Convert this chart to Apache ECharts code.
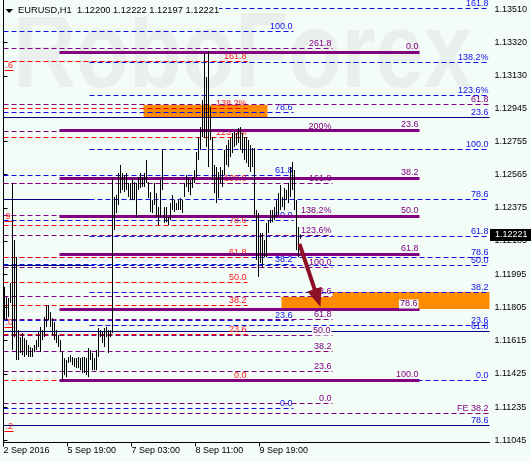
<!DOCTYPE html>
<html><head><meta charset="utf-8">
<script src="https://cdn.jsdelivr.net/npm/echarts@6/dist/echarts.min.js"></script>
<style>html,body{margin:0;padding:0;background:#f4fcf8}#c{width:531px;height:462px}</style>
</head><body><div id="c"></div>
<script>
// ---------- data ----------
const barOpen = [
1.1190,1.1175,1.1184,1.1184,1.1192,1.1180,1.1205,1.1155,1.1163,1.1158,
1.1160,1.1154,1.1159,1.1153,1.1157,1.1155,1.1158,1.1161,1.1158,1.1167,
1.1164,1.1174,1.1180,1.1175,1.1171,1.1166,1.1167,1.1161,1.1161,1.1154,
1.1142,1.1150,1.1149,1.1151,1.1150,1.1148,1.1151,1.1147,1.1151,1.1145,
1.1151,1.1144,1.1150,1.1155,1.1151,1.1145,1.1150,1.1156,1.1166,1.1164,
1.1161,1.1168,1.1165,1.1164,1.1167,1.1240,1.1238,1.1242,1.1255,1.1249,
1.1255,1.1248,1.1251,1.1245,1.1250,1.1243,1.1251,1.1248,1.1254,1.1250,
1.1254,1.1252,1.1252,1.1244,1.1237,1.1241,1.1245,1.1234,1.1233,1.1250,
1.1237,1.1230,1.1232,1.1231,1.1239,1.1237,1.1240,1.1237,1.1241,1.1237,
1.1244,1.1250,1.1254,1.1248,1.1252,1.1254,1.1258,1.1268,1.1276,1.1282,
1.1297,1.1280,1.1305,1.1278,1.1277,1.1256,1.1250,1.1258,1.1252,1.1259,
1.1257,1.1269,1.1265,1.1275,1.1270,1.1279,1.1274,1.1279,1.1276,1.1280,
1.1270,1.1276,1.1265,1.1273,1.1261,1.1270,1.1234,1.1210,1.1222,1.1207,
1.1219,1.1211,1.1227,1.1230,1.1235,1.1231,1.1237,1.1240,1.1236,1.1243,
1.1239,1.1247,1.1243,1.1250,1.1259,1.1250,1.1240,1.1215,1.12200];
const barClose = [
1.1175,1.1184,1.1179,1.1192,1.1180,1.1205,1.1155,1.1164,1.1158,1.1160,
1.1154,1.1160,1.1153,1.1157,1.1153,1.1158,1.1161,1.1158,1.1167,1.1163,
1.1174,1.1180,1.1175,1.1171,1.1166,1.1170,1.1161,1.1164,1.1155,1.1142,
1.1150,1.1143,1.1151,1.1150,1.1148,1.1151,1.1147,1.1151,1.1145,1.1151,
1.1144,1.1150,1.1155,1.1151,1.1145,1.1150,1.1156,1.1166,1.1164,1.1161,
1.1168,1.1165,1.1156,1.1167,1.1240,1.1238,1.1242,1.1255,1.1249,1.1255,
1.1248,1.1256,1.1245,1.1250,1.1243,1.1251,1.1246,1.1254,1.1250,1.1254,
1.1251,1.1262,1.1244,1.1237,1.1241,1.1250,1.1234,1.1230,1.1250,1.1249,
1.1230,1.1236,1.1229,1.1239,1.1237,1.1240,1.1237,1.1241,1.1237,1.1241,
1.1250,1.1254,1.1248,1.1252,1.1254,1.1258,1.1268,1.1276,1.1282,1.1297,
1.1280,1.1305,1.1268,1.1290,1.1256,1.1250,1.1258,1.1245,1.1259,1.1252,
1.1269,1.1265,1.1275,1.1270,1.1279,1.1274,1.1279,1.1276,1.1283,1.1270,
1.1276,1.1265,1.1274,1.1260,1.1270,1.1234,1.1210,1.1222,1.1207,1.1221,
1.1211,1.1227,1.1230,1.1235,1.1231,1.1237,1.1240,1.1236,1.1249,1.1239,
1.1247,1.1243,1.1250,1.1259,1.1250,1.1240,1.1215,1.1222,1.12221];
const barLow = [
1.11733,1.11733,1.11750,1.11830,1.11561,1.11635,1.11504,1.11504,1.11544,1.11532,
1.11521,1.11532,1.11521,1.11521,1.11521,1.11549,1.11561,1.11578,1.11549,1.11618,
1.11635,1.11693,1.11733,1.11693,1.11647,1.11618,1.11601,1.11578,1.11549,1.11389,
1.11418,1.11406,1.11487,1.11492,1.11475,1.11464,1.11458,1.11458,1.11446,1.11429,
1.11429,1.11418,1.11406,1.11504,1.11446,1.11446,1.11446,1.11521,1.11635,1.11601,
1.11578,1.11635,1.11544,1.11635,1.11658,1.12248,1.12345,1.12391,1.12459,1.12477,
1.12465,1.12477,1.12437,1.12419,1.12419,1.12419,1.12322,1.12477,1.12488,1.12494,
1.12494,1.12517,1.12431,1.12351,1.12345,1.12391,1.12322,1.12276,1.12322,1.12477,
1.12288,1.12293,1.12276,1.12305,1.12362,1.12351,1.12362,1.12362,1.12362,1.12345,
1.12437,1.12494,1.12465,1.12448,1.12488,1.12517,1.12551,1.12648,1.12706,1.12780,
1.12774,1.12723,1.12608,1.12763,1.12534,1.12459,1.12402,1.12431,1.12517,1.12494,
1.12562,1.12620,1.12608,1.12665,1.12688,1.12723,1.12734,1.12746,1.12706,1.12688,
1.12648,1.12631,1.12608,1.12580,1.12608,1.12322,1.12076,1.11979,1.12059,1.12036,
1.12093,1.12093,1.12231,1.12288,1.12293,1.12305,1.12322,1.12334,1.12362,1.12379,
1.12362,1.12419,1.12402,1.12437,1.12477,1.12362,1.12133,1.12093,1.12197];
const barHigh = [
1.11922,1.11864,1.11859,1.11944,1.12517,1.12190,1.12093,1.11675,1.11635,1.11658,
1.11630,1.11618,1.11590,1.11578,1.11572,1.11590,1.11618,1.11664,1.11693,1.11675,
1.11750,1.11818,1.11818,1.11778,1.11744,1.11721,1.11675,1.11647,1.11618,1.11549,
1.11515,1.11504,1.11521,1.11532,1.11521,1.11515,1.11515,1.11521,1.11515,1.11521,
1.11521,1.11515,1.11572,1.11561,1.11544,1.11515,1.11561,1.11687,1.11675,1.11664,
1.11687,1.11693,1.11675,1.11675,1.12545,1.12437,1.12448,1.12574,1.12620,1.12574,
1.12562,1.12574,1.12517,1.12517,1.12545,1.12522,1.12517,1.12551,1.12574,1.12551,
1.12574,1.12648,1.12522,1.12465,1.12419,1.12517,1.12459,1.12379,1.12534,1.12711,
1.12379,1.12379,1.12322,1.12402,1.12448,1.12419,1.12402,1.12419,1.12431,1.12419,
1.12517,1.12562,1.12545,1.12534,1.12551,1.12591,1.12694,1.12780,1.12837,1.12992,
1.13261,1.13123,1.13272,1.12952,1.12780,1.12620,1.12608,1.12580,1.12608,1.12591,
1.12706,1.12734,1.12763,1.12774,1.12803,1.12809,1.12803,1.12831,1.12837,1.12803,
1.12780,1.12780,1.12763,1.12734,1.12717,1.12717,1.12362,1.12345,1.12231,1.12231,
1.12190,1.12288,1.12305,1.12362,1.12362,1.12379,1.12419,1.12459,1.12505,1.12437,
1.12488,1.12477,1.12517,1.12608,1.12637,1.12591,1.12419,1.12265,1.12222];

const slotCount = 243;                       // hourly slots across the chart
const xTickSlots = [0, 32, 64, 96, 128];
const xTickLabels = ['2 Sep 2016', '5 Sep 19:00', '7 Sep 03:00', '8 Sep 11:00', '9 Sep 19:00'];
const yTickValues = [1.11045, 1.11235, 1.11425, 1.11615, 1.11805, 1.11995, 1.12185, 1.12375, 1.12565, 1.12755, 1.12945, 1.13130, 1.13320, 1.13510];
const priceMin = 1.11032, priceMax = 1.13564;
const titleText = 'EURUSD,H1  1.12200 1.12222 1.12197 1.12221';
const lastPrice = 1.12221;

// Fibonacci objects: level labels, prices and the slot span they cover
const redFibLabels = ['0.0','23.6','38.2','50.0','61.8','78.6','100.0','123.6%','138.2%','161.8'];
const redFibPrices = [1.11389,1.11653,1.11818,1.11950,1.12093,1.12276,1.12517,1.12780,1.12946,1.13215];
const redFibSpan = [0, 122];

const violetFibLabels = ['0.0','23.6','38.2','50.0','61.8','78.6','100.0','123.6%','138.2%','161.8','200%','261.8'];
const violetFibPrices = [1.11258,1.11441,1.11555,1.11647,1.11738,1.11870,1.12036,1.12219,1.12334,1.12517,1.12814,1.13289];
const violetFibSpan = [0, 164.5];

const thickFibLabels = ['0.0','23.6','38.2','50.0','61.8','78.6','100.0'];
const thickFibPrices = [1.13266,1.12820,1.12545,1.12328,1.12110,1.11796,1.11389];
const thickFibSpan = [28, 208];

const blueLongLabels = ['0.0','23.6','38.2','50.0','61.8','78.6','100.0','123.6%','138.2%','161.8'];
const blueLongPrices = [1.11389,1.11704,1.11893,1.12047,1.12213,1.12425,1.12711,1.13020,1.13209,1.13518];
const blueLongSpan = [43, 243];

const blueShortLabels = ['0.0','23.6','38.2','50.0','61.8','78.6','100.0'];
const blueShortPrices = [1.11229,1.11733,1.12053,1.12305,1.12562,1.12923,1.13387];
const blueShortSpan = [0, 145];

const navyLabels = ['23.6','','','61.8','78.6'];
const navyPrices = [1.12894,1.12425,1.12047,1.11670,1.11132];
const navyEnds = [243, 44, 44, 243, 243];

const extraVioletLabels = ['61.8', 'FE 38.2'];
const extraVioletPrices = [1.12969, 1.11200];
const extraBlueLabels = ['78.6'];
const extraBluePrices = [1.12093];

const zoneStart = [70, 139, 164.5];
const zoneEnd = [132, 243, 243];
const zoneTop = [1.12963, 1.11864, 1.11893];
const zoneBottom = [1.12889, 1.11796, 1.11864];

const arrowFrom = [148, 1.12168];
const arrowTo = [158.5, 1.11807];

const edgeLabelTexts = ['.6', '9', '.0', '.2'];
const edgeLabelPrices = [1.13163, 1.12299, 1.11693, 1.11097];

// ---------- drawing ----------
const BG = '#f4fcf8';
const FONT = '9px "Liberation Sans"';
const slots = Array.from({length: slotCount}, (_, i) => i);

function levelSeries(starts, ends, prices, labels, look) {
  const rows = prices.map((p, i) => [starts[i], ends[i], p]);
  return {
    type: 'custom', xAxisIndex: 1, yAxisIndex: 0, z: look.z, silent: true,
    data: rows,
    renderItem(params, api) {
      const a = api.coord([api.value(0), api.value(2)]);
      const b = api.coord([api.value(1), api.value(2)]);
      const y = Math.round(a[1]) + 0.5;
      const kids = [{type: 'line', shape: {x1: a[0], y1: y, x2: b[0], y2: y},
        style: {stroke: look.color, lineWidth: look.width, lineDash: look.dash || null}}];
      const text = labels[params.dataIndex];
      if (text) {
        const withBg = look.bg && look.bg.indexOf(text) >= 0;
        kids.push({type: 'text', x: b[0] - 1, y: y - Math.ceil(look.width / 2) + 1,
          style: {text, fill: look.labelColor, font: FONT, align: 'right', verticalAlign: 'bottom',
            backgroundColor: withBg ? BG : null, padding: withBg ? [0, 1, 0, 1] : 0}});
      }
      return {type: 'group', children: kids};
    }
  };
}
const fill = (n, v) => Array(n).fill(v);

const series = [
  { // orange zones
    type: 'custom', xAxisIndex: 1, yAxisIndex: 0, z: 1, silent: true,
    data: zoneStart.map((s, i) => [s, zoneEnd[i], zoneTop[i], zoneBottom[i]]),
    renderItem(params, api) {
      const a = api.coord([api.value(0), api.value(2)]);
      const b = api.coord([api.value(1), api.value(3)]);
      return {type: 'rect', shape: {x: a[0], y: a[1], width: b[0] - a[0], height: b[1] - a[1]},
        style: {fill: '#ff8c00'}};
    }
  },
  levelSeries(fill(5, 0), navyEnds, navyPrices, navyLabels, {color: '#000080', width: 1, labelColor: '#1010e8', z: 2}),
  levelSeries(fill(10, blueLongSpan[0]), fill(10, blueLongSpan[1]), blueLongPrices, blueLongLabels, {color: '#1010e8', width: 1, dash: [5, 3], labelColor: '#1010e8', z: 2}),
  levelSeries(fill(7, blueShortSpan[0]), fill(7, blueShortSpan[1]), blueShortPrices, blueShortLabels, {color: '#1010e8', width: 1, dash: [5, 3], labelColor: '#1010e8', z: 2}),
  levelSeries(fill(1, 0), fill(1, slotCount), extraBluePrices, extraBlueLabels, {color: '#1010e8', width: 1, dash: [5, 3], labelColor: '#1010e8', z: 2}),
  levelSeries(fill(10, redFibSpan[0]), fill(10, redFibSpan[1]), redFibPrices, redFibLabels, {color: '#ff0000', width: 1, dash: [5, 3], labelColor: '#ff1a1a', z: 2}),
  levelSeries(fill(12, violetFibSpan[0]), fill(12, violetFibSpan[1]), violetFibPrices, violetFibLabels, {color: '#800080', width: 1, dash: [5, 3], labelColor: '#800080', bg: ['50.0'], z: 2}),
  levelSeries(fill(2, 0), fill(2, slotCount), extraVioletPrices, extraVioletLabels, {color: '#800080', width: 1, dash: [5, 3], labelColor: '#800080', z: 2}),
  levelSeries(fill(7, thickFibSpan[0]), fill(7, thickFibSpan[1]), thickFibPrices, thickFibLabels, {color: '#800080', width: 3, labelColor: '#800080', bg: ['78.6'], z: 3}),
  { // clipped labels on the left edge
    type: 'custom', xAxisIndex: 1, yAxisIndex: 0, z: 3, silent: true,
    data: edgeLabelPrices.map(p => [0, p]),
    renderItem(params, api) {
      const c = api.coord([api.value(0), api.value(1)]);
      const y = Math.round(c[1]) + 0.5;
      return {type: 'group', children: [
        {type: 'line', shape: {x1: c[0] + 1, y1: y, x2: c[0] + 10, y2: y}, style: {stroke: '#ff0000', lineWidth: 1}},
        {type: 'text', x: c[0] + 2, y: y, style: {text: edgeLabelTexts[params.dataIndex], fill: '#ff1a1a', font: FONT, align: 'left', verticalAlign: 'bottom'}}
      ]};
    }
  },
  {
    type: 'candlestick', xAxisIndex: 0, yAxisIndex: 0, z: 4,
    large: true, largeThreshold: 10, silent: true,
    data: barOpen.map((o, i) => [o, barClose[i], barLow[i], barHigh[i]]),
    itemStyle: {color: '#000', color0: '#000', borderColor: '#000', borderColor0: '#000', borderWidth: 1, opacity: 1}
  },
  { // arrow
    type: 'custom', xAxisIndex: 1, yAxisIndex: 0, z: 5, silent: true,
    data: [[arrowFrom[0], arrowFrom[1], arrowTo[0], arrowTo[1]]],
    renderItem(params, api) {
      const a = api.coord([api.value(0), api.value(1)]);
      const b = api.coord([api.value(2), api.value(3)]);
      const dx = b[0] - a[0], dy = b[1] - a[1], L = Math.hypot(dx, dy);
      const ux = dx / L, uy = dy / L, nx = -uy, ny = ux;
      const hl = 19, hw = 7.5;
      const bx = b[0] - ux * hl, by = b[1] - uy * hl;
      return {type: 'group', children: [
        {type: 'line', shape: {x1: a[0], y1: a[1], x2: bx + ux * 2, y2: by + uy * 2}, style: {stroke: '#8e1024', lineWidth: 4}},
        {type: 'polygon', shape: {points: [[b[0], b[1]], [bx + nx * hw, by + ny * hw], [bx - nx * hw, by - ny * hw]]}, style: {fill: '#8e1024'}}
      ]};
    }
  },
  { // current price tag
    type: 'custom', xAxisIndex: 1, yAxisIndex: 0, z: 6, silent: true,
    data: [[slotCount, lastPrice]],
    renderItem(params, api) {
      const c = api.coord([api.value(0), api.value(1)]);
      const y = Math.round(c[1]);
      return {type: 'group', children: [
        {type: 'rect', shape: {x: c[0] + 0.5, y: y - 6, width: 45, height: 12}, style: {fill: '#000'}},
        {type: 'text', x: c[0] + 5.5, y: y, style: {text: lastPrice.toFixed(5), fill: '#fff', font: FONT, align: 'left', verticalAlign: 'middle'}}
      ]};
    }
  }
];

const option = {
  backgroundColor: BG,
  animation: false,
  grid: {left: 3.5, right: 41.5, top: 0, bottom: 19.5},
  xAxis: [
    {type: 'category', data: slots, show: false, boundaryGap: true},
    {type: 'value', min: 0, max: slotCount, position: 'bottom',
      axisLine: {show: true, lineStyle: {color: '#000', width: 1}},
      axisTick: {show: true, customValues: xTickSlots, length: 4, lineStyle: {color: '#000'}},
      axisLabel: {show: true, customValues: xTickSlots,
        formatter: v => { const k = xTickSlots.indexOf(v); return k >= 0 ? xTickLabels[k] : ''; },
        align: 'left', margin: 4, color: '#000', fontSize: 9, fontFamily: 'Liberation Sans'},
      splitLine: {show: false}}
  ],
  yAxis: [
    {type: 'value', position: 'right', min: priceMin, max: priceMax,
      axisLine: {show: true, lineStyle: {color: '#000'}},
      axisTick: {show: true, customValues: yTickValues, length: 4, lineStyle: {color: '#000'}},
      axisLabel: {show: true, customValues: yTickValues, formatter: v => v.toFixed(5),
        margin: 5, color: '#000', fontSize: 9, fontFamily: 'Liberation Sans'},
      splitLine: {show: false}},
    {type: 'value', position: 'left', min: priceMin, max: priceMax,
      axisLine: {show: true, lineStyle: {color: '#000'}}, axisTick: {show: false},
      axisLabel: {show: false}, splitLine: {show: false}}
  ],
  graphic: [
    {type: 'text', z: 0, silent: true, x: 13, y: 57, scaleY: 1.24,
      style: {text: 'RoboForex', font: 'bold 87px "Liberation Sans"', fill: '#e9efed', align: 'left', verticalAlign: 'middle'}},
    {type: 'rect', z: 100, silent: true, shape: {x: 4, y: 3, width: 215, height: 14}, style: {fill: BG}},
    {type: 'polygon', z: 101, silent: true, shape: {points: [[5.5, 9], [13, 9], [9.25, 13]]}, style: {fill: '#000'}},
    {type: 'text', z: 101, silent: true, x: 18, y: 10.5,
      style: {text: titleText, font: '9.3px "Liberation Sans"', fill: '#000', align: 'left', verticalAlign: 'middle'}}
  ],
  series
};
const chart = echarts.init(document.getElementById('c'), null, {renderer: 'canvas'});
chart.setOption(option);
</script></body></html>
